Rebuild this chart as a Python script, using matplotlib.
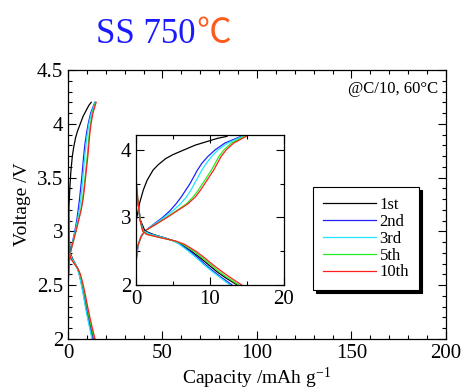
"""Charge/discharge curves, SS 750C, with zoomed inset"""
import matplotlib
matplotlib.use('Agg')
import matplotlib.pyplot as plt

plt.rcParams['font.family'] = ['Liberation Serif', 'DejaVu Serif']
plt.rcParams['mathtext.fontset'] = 'custom'
plt.rcParams['mathtext.rm'] = 'Liberation Serif'
plt.rcParams['mathtext.it'] = 'Liberation Serif:italic'

labels = ['1st', '2nd', '3rd', '5th', '10th']
colors = ['black', '#1f1fff', '#22e5ff', '#22ee22', '#ff1f1f']

# charge curves (capacity mAh/g, voltage V)
chg_cap_1st = [0, 0.2, 0.5, 1.0, 1.5, 2.3, 3.0, 4.0, 5.0, 6.5, 8.0, 9.5, 11.0, 12.3]
chg_v_1st = [2.95, 3.05, 3.22, 3.41, 3.55, 3.70, 3.78, 3.87, 3.93, 4.00, 4.07, 4.12, 4.17, 4.20]

chg_v = [2.6, 2.72, 2.8, 2.9, 3.0, 3.1, 3.2, 3.3, 3.4, 3.5, 3.6, 3.7, 3.8, 3.9, 4.0, 4.1, 4.2]
chg_start_v = [2.33, 2.42, 2.45, 2.48]
chg_cap_2nd = [0.3, 0.7, 1.2, 2.4, 3.6, 4.6, 5.4, 6.1, 6.7, 7.3, 7.8, 8.3, 8.9, 9.7, 10.7, 12.0, 14.2]
chg_cap_3rd = [0.3, 0.7, 1.2, 2.5, 3.8, 5.0, 6.0, 6.8, 7.4, 7.9, 8.4, 8.9, 9.5, 10.2, 11.1, 12.4, 14.4]
chg_cap_5th = [0.3, 0.7, 1.2, 2.7, 4.1, 5.5, 6.8, 7.7, 8.4, 9.0, 9.6, 10.2, 10.7, 11.2, 11.9, 12.9, 14.6]
chg_cap_10th = [0.3, 0.7, 1.2, 2.7, 4.2, 5.6, 7.0, 8.0, 8.7, 9.3, 9.9, 10.5, 11.0, 11.5, 12.2, 13.2, 14.9]

# discharge curves
dis_v = [3.2, 2.96, 2.8, 2.75, 2.7, 2.65, 2.6, 2.5, 2.4, 2.3, 2.2, 2.1, 2.0]
dis_start_v = [3.3, 3.45, 3.5, 3.55, 3.6]
dis_cap_1st = [0.3, 0.6, 1.2, 2.3, 3.8, 5.2, 6.1, 7.5, 8.7, 9.8, 10.9, 12.2, 13.7]
dis_cap_2nd = [0.3, 0.55, 1.0, 2.0, 3.8, 5.2, 6.0, 7.3, 8.4, 9.4, 10.5, 11.7, 13.0]
dis_cap_3rd = [0.3, 0.55, 1.0, 2.0, 3.8, 5.1, 5.9, 7.1, 8.2, 9.2, 10.3, 11.5, 12.7]
dis_cap_5th = [0.3, 0.55, 0.9, 1.5, 3.4, 5.3, 6.4, 7.8, 9.0, 10.1, 11.2, 12.5, 13.9]
dis_cap_10th = [0.3, 0.55, 0.9, 1.4, 3.3, 5.4, 6.6, 8.1, 9.3, 10.4, 11.6, 12.9, 14.3]

chg_caps = [chg_cap_2nd, chg_cap_3rd, chg_cap_5th, chg_cap_10th]
dis_caps = [dis_cap_1st, dis_cap_2nd, dis_cap_3rd, dis_cap_5th, dis_cap_10th]


def draw_curves(ax, with_labels):
    ax.plot(chg_cap_1st, chg_v_1st, color=colors[0], lw=0.9,
            label=labels[0] if with_labels else None)
    for i in range(4):
        ax.plot([0] + chg_caps[i], [chg_start_v[i]] + chg_v, color=colors[i + 1], lw=0.9,
                label=labels[i + 1] if with_labels else None)
    for i in range(5):
        ax.plot([0] + dis_caps[i], [dis_start_v[i]] + dis_v, color=colors[i], lw=0.9)


def style_ticks(ax, size):
    ax.tick_params(which='both', direction='in', top=True, right=True, labelsize=size)
    ax.tick_params(which='major', length=6, width=0.8)
    ax.tick_params(which='minor', length=3, width=0.8)
    for s in ax.spines.values():
        s.set_linewidth(0.9)


fig = plt.figure(figsize=(4.65, 3.91), dpi=100)
ax = fig.add_axes([0.1462, 0.133, 0.8129, 0.688])
draw_curves(ax, True)
ax.set_xlim(0, 200)
ax.set_ylim(2, 4.5)
ax.set_xticks([0, 50, 100, 150, 200])
ax.set_xticks(range(0, 201, 10), minor=True)
ax.set_yticks([2, 2.5, 3, 3.5, 4, 4.5])
ax.set_yticks([2 + 0.1 * k for k in range(26)], minor=True)
ax.set_yticklabels(['2', '2.5', '3', '3.5', '4', '4.5'])
style_ticks(ax, 15)
ax.set_xlabel('Capacity /mAh g$^{-1}$', fontsize=14, labelpad=2)
ax.set_ylabel('Voltage /V', fontsize=14, labelpad=4)
ax.text(0.98, 0.93, '@C/10, 60°C', transform=ax.transAxes, ha='right', va='center', fontsize=12)

leg = ax.legend(loc='upper left', bbox_to_anchor=(0.648, 0.565), borderaxespad=0,
                fancybox=False, edgecolor='black', shadow={'color': 'black', 'alpha': 1, 'ox': 2, 'oy': -2},
                fontsize=12, handlelength=3.2, labelspacing=0.05, borderpad=0.6, handletextpad=0.2)
leg.get_frame().set_linewidth(0.8)

ins = fig.add_axes([0.2925, 0.2711, 0.318, 0.3836])
draw_curves(ins, False)
ins.set_xlim(0, 20)
ins.set_ylim(2, 4.22)
ins.set_xticks([0, 10, 20])
ins.set_xticks([5, 15], minor=True)
ins.set_yticks([2, 3, 4])
ins.set_yticks([2.5, 3.5], minor=True)
style_ticks(ins, 15)

fig.text(0.4215, 0.89, 'SS 750', color='#1a1aff', fontsize=25, ha='right', va='baseline')
fig.text(0.4215, 0.89, '℃', color='#ff5a1e', fontsize=25, ha='left', va='baseline',
         family=['Noto Sans CJK JP', 'DejaVu Sans'])

fig.savefig('out.png', dpi=100)
